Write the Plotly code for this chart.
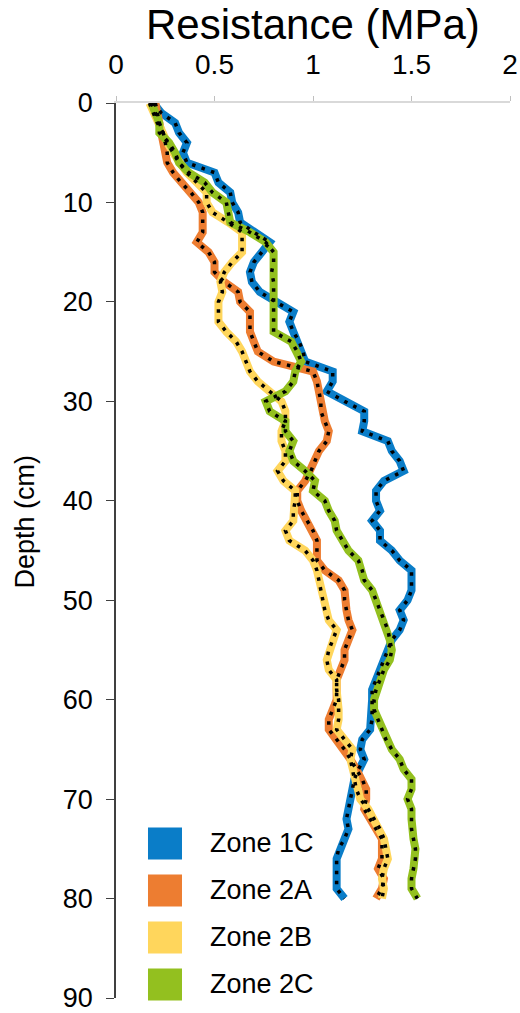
import plotly.graph_objects as go

# Penetration resistance profiles, one reading per centimetre of depth
depth_cm = list(range(0, 81))

zone_1c = [0.19, 0.23, 0.30, 0.32, 0.36, 0.34, 0.36, 0.50, 0.52, 0.58,
           0.59, 0.62, 0.63, 0.70, 0.78, 0.74, 0.70, 0.68, 0.69, 0.73,
           0.81, 0.90, 0.88, 0.90, 0.93, 0.95, 0.96, 1.10, 1.10, 1.07,
           1.16, 1.26, 1.26, 1.25, 1.38, 1.40, 1.44, 1.46, 1.36, 1.32,
           1.32, 1.34, 1.30, 1.34, 1.34, 1.40, 1.44, 1.50, 1.50, 1.50,
           1.48, 1.44, 1.46, 1.44, 1.40, 1.38, 1.36, 1.34, 1.32, 1.30,
           1.30, 1.30, 1.30, 1.29, 1.25, 1.24, 1.26, 1.23, 1.21, 1.20,
           1.19, 1.18, 1.17, 1.18, 1.16, 1.13, 1.12, 1.12, 1.12, 1.12,
           1.16]

zone_2a = [0.20, 0.21, 0.22, 0.24, 0.25, 0.26, 0.26, 0.29, 0.33, 0.38,
           0.42, 0.44, 0.44, 0.44, 0.41, 0.47, 0.50, 0.50, 0.55, 0.62,
           0.63, 0.68, 0.68, 0.68, 0.70, 0.72, 0.80, 1.00, 1.02, 1.03,
           1.04, 1.04, 1.06, 1.08, 1.07, 1.03, 1.01, 0.99, 0.96, 0.92,
           0.92, 0.94, 0.97, 1.00, 1.02, 1.02, 1.02, 1.06, 1.13, 1.16,
           1.16, 1.17, 1.18, 1.20, 1.18, 1.16, 1.16, 1.14, 1.12, 1.12,
           1.12, 1.10, 1.08, 1.08, 1.12, 1.16, 1.19, 1.22, 1.25, 1.27,
           1.27, 1.26, 1.29, 1.32, 1.35, 1.35, 1.35, 1.33, 1.36, 1.35,
           1.32]

zone_2b = [0.17, 0.19, 0.21, 0.24, 0.26, 0.29, 0.32, 0.36, 0.41, 0.46,
           0.46, 0.49, 0.57, 0.64, 0.64, 0.64, 0.59, 0.55, 0.53, 0.54,
           0.52, 0.52, 0.52, 0.56, 0.61, 0.64, 0.66, 0.68, 0.72, 0.78,
           0.84, 0.86, 0.86, 0.84, 0.84, 0.86, 0.86, 0.82, 0.85, 0.91,
           0.91, 0.90, 0.90, 0.86, 0.88, 0.96, 1.00, 1.02, 1.03, 1.04,
           1.05, 1.06, 1.08, 1.12, 1.10, 1.08, 1.07, 1.08, 1.12, 1.12,
           1.13, 1.13, 1.13, 1.12, 1.16, 1.20, 1.19, 1.20, 1.21, 1.22,
           1.24, 1.28, 1.31, 1.34, 1.36, 1.37, 1.38, 1.36, 1.35, 1.36,
           1.35]

zone_2c = [0.18, 0.20, 0.22, 0.22, 0.27, 0.30, 0.32, 0.37, 0.45, 0.49,
           0.56, 0.57, 0.58, 0.68, 0.76, 0.80, 0.80, 0.79, 0.80, 0.80,
           0.80, 0.80, 0.80, 0.80, 0.89, 0.92, 0.94, 0.91, 0.90, 0.86,
           0.76, 0.78, 0.86, 0.86, 0.90, 0.88, 0.90, 0.96, 1.01, 1.00,
           1.06, 1.08, 1.11, 1.12, 1.15, 1.18, 1.23, 1.25, 1.26, 1.30,
           1.32, 1.34, 1.36, 1.38, 1.39, 1.40, 1.39, 1.36, 1.34, 1.32,
           1.31, 1.31, 1.33, 1.35, 1.37, 1.40, 1.44, 1.46, 1.50, 1.50,
           1.48, 1.50, 1.50, 1.50, 1.51, 1.52, 1.52, 1.51, 1.50, 1.50,
           1.53]

zone_names = ["Zone 1C", "Zone 2A", "Zone 2B", "Zone 2C"]
zone_values = [zone_1c, zone_2a, zone_2b, zone_2c]
zone_colors = ["#0A7DC8", "#ED7D31", "#FFD65C", "#93C01F"]

x_ticks = [0, 0.5, 1, 1.5, 2]
x_tick_text = ["0", "0.5", "1", "1.5", "2"]
y_ticks = list(range(0, 91, 10))

FONT = "Liberation Sans, Arial, sans-serif"

fig = go.Figure()

# Thick coloured line per zone, overlaid with a black dotted line
for name, vals, col in zip(zone_names, zone_values, zone_colors):
    fig.add_trace(go.Scatter(
        x=vals, y=depth_cm, mode="lines", name=name,
        line=dict(color=col, width=8),
        showlegend=False, hoverinfo="skip"))
for name, vals in zip(zone_names, zone_values):
    fig.add_trace(go.Scatter(
        x=vals, y=depth_cm, mode="lines", name=name + " (dots)",
        line=dict(color="black", width=3.5, dash="3.5px,6.5px"),
        showlegend=False, hoverinfo="skip"))

# Hand-built legend: large colour squares with labels
row_top = 0.1905
row_step = 0.0525
sq_h = 0.0357
for i, (name, col) in enumerate(zip(zone_names, zone_colors)):
    top = row_top - i * row_step
    fig.add_shape(type="rect", xref="paper", yref="paper",
                  x0=0.0812, x1=0.1675, y0=top - sq_h, y1=top,
                  fillcolor=col, line=dict(width=0))
    fig.add_annotation(xref="paper", yref="paper",
                       x=0.2335, y=top - sq_h / 2,
                       text=name, showarrow=False,
                       xanchor="left", yanchor="middle",
                       font=dict(family=FONT, size=27, color="black"))

# Chart title above the top axis
fig.add_annotation(xref="paper", yref="paper", x=0.5, y=1.0875,
                   text="Resistance (MPa)", showarrow=False,
                   xanchor="center", yanchor="middle",
                   font=dict(family=FONT, size=42, color="black"))

# Vertical axis title
fig.add_annotation(xref="paper", yref="paper", x=-0.232, y=0.532,
                   text="Depth (cm)", showarrow=False, textangle=-90,
                   xanchor="center", yanchor="middle",
                   font=dict(family=FONT, size=27, color="black"))

fig.update_layout(
    width=520, height=1013,
    margin=dict(l=116, r=10, t=103, b=15),
    paper_bgcolor="white", plot_bgcolor="white",
    font=dict(family=FONT, color="black"),
    showlegend=False,
    xaxis=dict(
        side="top", range=[0, 2], tickvals=x_ticks, ticktext=x_tick_text,
        ticks="outside", ticklen=5, tickcolor="#BFBFBF",
        showline=True, linecolor="#D9D9D9", linewidth=1.5,
        showgrid=False, zeroline=False, automargin=False,
        tickfont=dict(family=FONT, size=28, color="black", weight="normal"),
        ticklabelstandoff=11,
    ),
    yaxis=dict(
        range=[90, 0], tickvals=y_ticks,
        ticks="outside", ticklen=8, tickcolor="#404040",
        showline=True, linecolor="#404040", linewidth=1.5,
        showgrid=False, zeroline=False, automargin=False,
        tickfont=dict(family=FONT, size=27, color="black", weight="normal"),
        ticklabelstandoff=8, ticklabeloverflow="allow",
    ),
)

fig.write_html("out.html")
